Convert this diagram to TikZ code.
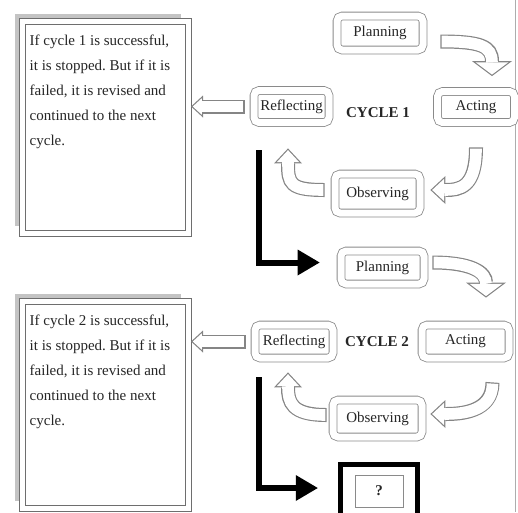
\documentclass[tikz,border=0pt]{standalone}
\usepackage{fontspec}
\setmainfont{Liberation Serif}
\usepackage{xcolor}
\usepackage{tikz}
\usetikzlibrary{arrows.meta, calc, shadows}
\frenchspacing
\definecolor{framegray}{HTML}{8A8A8A}
\definecolor{boxgray}{HTML}{6E6E6E}
\definecolor{shadegray}{HTML}{C4C4C4}
\definecolor{arrowgray}{HTML}{858585}
\definecolor{inkgray}{HTML}{262626}

\tikzset{
  stage/.style={draw=framegray, double=white, double distance=7pt, line width=0.8pt,
    rounded corners=5pt, inner sep=0pt, text=inkgray, font=\fontsize{15}{18}\selectfont},
  notebox/.style={draw=boxgray, double=white, double distance=5pt, line width=1pt, fill=white,
    minimum width=166pt,
    drop shadow={shadow xshift=-7.5pt, shadow yshift=7.5pt, fill=shadegray, opacity=1}},
  notetext/.style={anchor=north west, align=left, inner sep=0pt, text=inkgray,
    font=\fontsize{15}{25}\selectfont},
  cyclelabel/.style={text=inkgray, font=\bfseries\fontsize{15}{18}\selectfont},
  hollow/.style n args={5}{draw=arrowgray, line width=14pt,
    -{Triangle[length=#1, width=#2, line width=0pt]},
    postaction={draw=white, line width=11.6pt, shorten <=1.2pt, shorten >=#3,
      -{Triangle[length=#4, width=#5, line width=0pt]}}},
  hollowflat/.style={hollow={12pt}{22pt}{1.78pt}{9.02pt}{16.5pt}},
  hollowbend/.style={hollow={15pt}{28pt}{1.76pt}{12.04pt}{22.5pt}},
  hollowwide/.style={hollow={15pt}{40pt}{1.5pt}{12.3pt}{32.8pt}},
  bigarrow/.style={draw=black, line width=6pt,
    -{Triangle[length=22pt, width=26pt, line width=0pt]}}
}

\begin{document}
\begin{tikzpicture}[x=1pt, y=-1pt]
  \useasboundingbox (0,0) rectangle (518,512);
  \clip (0,0) rectangle (518,512);
  \draw[framegray!70, line width=0.8pt] (515,0) -- (515,512);

  % notes on the left
  \node[notebox, minimum height=212pt] (box1) at (105.5,127.5) {};
  \node[notetext] (note1) at ($(box1.north west)+(7.5,14)$) {If cycle 1 is successful,\\
    it is stopped. But if it is\\ failed, it is revised and\\ continued to the next\\ cycle.};
  \node[notebox, minimum height=206.5pt] (box2) at (105.5,404.75) {};
  \node[notetext] (note2) at ($(box2.north west)+(7.5,14)$) {If cycle 2 is successful,\\
    it is stopped. But if it is\\ failed, it is revised and\\ continued to the next\\ cycle.};

  % cycle 1
  \node[stage, minimum width=86pt, minimum height=34pt] (plan1) at (380,33) {Planning};
  \node[stage, minimum width=75pt, minimum height=32pt] (refl1) at (291.5,106.5) {Reflecting};
  \node[stage, minimum width=77pt, minimum height=31pt] (act1) at (476,107) {Acting};
  \node[stage, minimum width=85pt, minimum height=39pt] (obs1) at (377.5,193.5) {Observing};
  \node[cyclelabel] (cyc1) at (378,113) {CYCLE 1};

  % cycle 2
  \node[stage, minimum width=83pt, minimum height=33pt] (plan2) at (382.5,267.5) {Planning};
  \node[stage, minimum width=78pt, minimum height=33pt] (refl2) at (294,341.5) {Reflecting};
  \node[stage, minimum width=87pt, minimum height=33pt] (act2) at (465.5,341.5) {Acting};
  \node[stage, minimum width=89pt, minimum height=37pt] (obs2) at (377.5,418.5) {Observing};
  \node[cyclelabel] (cyc2) at (377,342) {CYCLE 2};

  \node[draw=black, line width=4.5pt, minimum width=77pt, minimum height=65pt] (qbox) at (379,497) {};
  \node[draw=framegray, line width=0.6pt, minimum width=48pt, minimum height=32pt,
        text=inkgray, font=\bfseries\fontsize{15}{18}\selectfont] (qmark) at (379,491) {?};

  % hollow arrows
  \draw[hollowflat] ($(refl1.west)+(-9,0)$) -- ($(refl1.west -| box1.east)+(2,0)$);
  \draw[hollowflat] ($(refl2.west)+(-9,0)$) -- ($(refl2.west -| box2.east)+(2,0)$);
  \draw[hollowwide] ($(plan1.east)+(17,8.5)$) .. controls +(40,0) and +(0,-30) .. ($(act1.north)+(16,-15)$);
  \draw[hollowbend] ($(act1.south)+(0,24.5)$) .. controls +(0,40) and +(30,0) .. ($(obs1.east)+(10,-3.5)$);
  \draw[hollowbend] ($(obs1.west)+(-10,-3.5)$) .. controls +(-35,0) and +(0,35) .. ($(refl1.south)+(-3.5,25.5)$);
  \draw[hollowwide] ($(plan2.east)+(8,-5)$) .. controls +(40,0) and +(0,-25) .. ($(act2.north)+(20.5,-27)$);
  \draw[hollowbend] ($(act2.south)+(27,24)$) .. controls +(0,30) and +(30,0) .. ($(obs2.east)+(8,-4.5)$);
  \draw[hollowbend] ($(obs2.west)+(-6,-3.5)$) .. controls +(-35,0) and +(0,30) .. ($(refl2.south)+(-6,14)$);

  % on to the next cycle
  \draw[bigarrow] ($(refl1.south west)+(5,27.5)$) |- ($(plan2.west)+(-21,-5)$);
  \draw[bigarrow] ($(refl2.south west)+(4,19)$) |- ($(qbox.west)+(-20.5,-9)$);
\end{tikzpicture}
\end{document}
